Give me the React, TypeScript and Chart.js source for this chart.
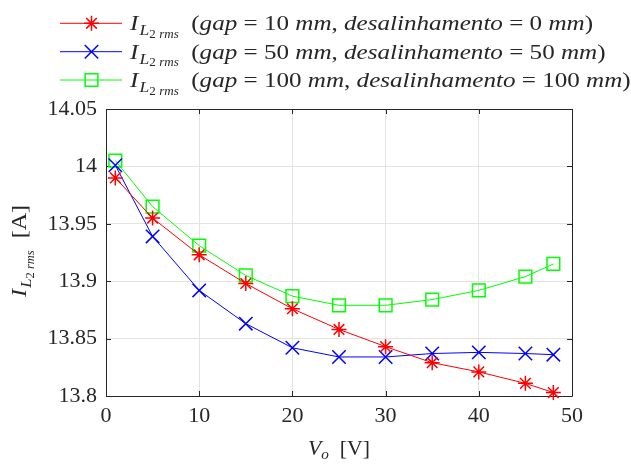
import React, { useEffect, useRef } from 'react';
import { Chart, registerables } from 'chart.js';

Chart.register(...registerables);

// Output voltage (V) at each measurement
const voltages = [1, 5, 10, 15, 20, 25, 30, 35, 40, 45, 48];
// RMS current in L2 (A) for each gap / misalignment configuration
const currentGap10 = [13.99, 13.955, 13.923, 13.898, 13.876, 13.858, 13.843, 13.829, 13.821, 13.811, 13.803];
const currentGap50 = [14.001, 13.939, 13.892, 13.863, 13.842, 13.834, 13.834, 13.837, 13.838, 13.837, 13.836];
const currentGap100 = [14.005, 13.965, 13.931, 13.905, 13.887, 13.879, 13.879, 13.884, 13.892, 13.904, 13.915];

const gapsMm = [10, 50, 100];
const misalignMm = [0, 50, 100];

const xTickValues = [0, 10, 20, 30, 40, 50];
const yTickValues = [13.8, 13.85, 13.9, 13.95, 14, 14.05];
const yTickLabels = ['13.8', '13.85', '13.9', '13.95', '14', '14.05'];

const FONT = '"Liberation Serif", "DejaVu Serif", serif';
const AXIS_COLOR = '#262626';
const GRID_COLOR = '#e3e3e3';
const SERIES_COLORS = ['#ff0000', '#0000ff', '#00ff00'];
const POINT_STYLES = ['star', 'crossRot', 'rect'];
const POINT_RADII = [7.5, 9.5, 9];

type Seg = { t: string; it?: boolean; k?: number; dy?: number };

function segWidth(ctx: CanvasRenderingContext2D, segs: Seg[], size: number): number {
  let w = 0;
  for (const s of segs) {
    ctx.font = `${s.it ? 'italic ' : ''}${size * (s.k ?? 1)}px ${FONT}`;
    w += ctx.measureText(s.t).width;
  }
  return w;
}

function drawSegs(ctx: CanvasRenderingContext2D, segs: Seg[], x: number, y: number, size: number): number {
  let cx = x;
  for (const s of segs) {
    ctx.font = `${s.it ? 'italic ' : ''}${size * (s.k ?? 1)}px ${FONT}`;
    ctx.fillText(s.t, cx, y + (s.dy ?? 0));
    cx += ctx.measureText(s.t).width;
  }
  return cx - x;
}

// Draws a run of text segments stretched horizontally to a given width
function drawStretched(ctx: CanvasRenderingContext2D, segs: Seg[], x: number, y: number, size: number, sx: number) {
  ctx.save();
  ctx.translate(x, y);
  ctx.scale(sx, 1);
  drawSegs(ctx, segs, 0, 0, size);
  ctx.restore();
}

// I_{L_{2rms}} symbol
const currentSymbol: Seg[] = [
  { t: 'I', it: true },
  { t: ' ', k: 0.2 },
  { t: 'L', it: true, k: 0.7, dy: 5 },
  { t: '2', k: 0.52, dy: 7.5 },
  { t: ' rms', it: true, k: 0.52, dy: 7.5 },
];

function legendSegs(i: number): Seg[] {
  return [
    ...currentSymbol,
    { t: '  (' },
    { t: 'gap', it: true },
    { t: ' = ' },
    { t: String(gapsMm[i]) },
    { t: ' ' },
    { t: 'mm', it: true },
    { t: ', ' },
    { t: 'desalinhamento', it: true },
    { t: ' = ' },
    { t: String(misalignMm[i]) },
    { t: ' ' },
    { t: 'mm', it: true },
    { t: ')' },
  ];
}

function drawMarker(ctx: CanvasRenderingContext2D, style: string, r: number, x: number, y: number, color: string) {
  ctx.save();
  ctx.strokeStyle = color;
  ctx.lineWidth = 1.5;
  ctx.beginPath();
  if (style === 'star') {
    ctx.moveTo(x - r, y); ctx.lineTo(x + r, y);
    ctx.moveTo(x, y - r); ctx.lineTo(x, y + r);
    const d = r * Math.SQRT1_2;
    ctx.moveTo(x - d, y - d); ctx.lineTo(x + d, y + d);
    ctx.moveTo(x - d, y + d); ctx.lineTo(x + d, y - d);
  } else if (style === 'crossRot') {
    const d = r * Math.SQRT1_2;
    ctx.moveTo(x - d, y - d); ctx.lineTo(x + d, y + d);
    ctx.moveTo(x - d, y + d); ctx.lineTo(x + d, y - d);
  } else {
    const d = r * Math.SQRT1_2;
    ctx.rect(x - d, y - d, 2 * d, 2 * d);
  }
  ctx.stroke();
  ctx.restore();
}

const framePlugin = {
  id: 'matlabFrame',
  beforeDatasetsDraw(chart: any) {
    const { ctx, chartArea: a, scales } = chart;
    ctx.save();
    ctx.strokeStyle = AXIS_COLOR;
    ctx.lineWidth = 1;
    ctx.beginPath();
    ctx.rect(Math.round(a.left) + 0.5, Math.round(a.top) + 0.5, Math.round(a.right - a.left), Math.round(a.bottom - a.top));
    const tl = 5;
    for (const v of xTickValues) {
      const px = Math.round(scales.x.getPixelForValue(v)) + 0.5;
      ctx.moveTo(px, a.bottom);
      ctx.lineTo(px, a.bottom - tl);
      ctx.moveTo(px, a.top);
      ctx.lineTo(px, a.top + tl);
    }
    for (const v of yTickValues) {
      const py = Math.round(scales.y.getPixelForValue(v)) + 0.5;
      ctx.moveTo(a.left, py);
      ctx.lineTo(a.left + tl, py);
      ctx.moveTo(a.right, py);
      ctx.lineTo(a.right - tl, py);
    }
    ctx.stroke();
    ctx.restore();
  },
  afterDraw(chart: any) {
    const { ctx, chartArea: a } = chart;
    ctx.save();
    ctx.fillStyle = AXIS_COLOR;
    ctx.textBaseline = 'alphabetic';
    ctx.textAlign = 'left';

    // Legend
    const rowY = [23.3, 51.7, 80];
    const legendStretch = 463 / segWidth(ctx, legendSegs(0), 22);
    chart.data.datasets.forEach((_ds: any, i: number) => {
      const cy = rowY[i];
      ctx.strokeStyle = SERIES_COLORS[i];
      ctx.lineWidth = 1;
      ctx.beginPath();
      ctx.moveTo(60, cy);
      ctx.lineTo(122, cy);
      ctx.stroke();
      drawMarker(ctx, POINT_STYLES[i], POINT_RADII[i], 91.5, cy, SERIES_COLORS[i]);
      ctx.fillStyle = AXIS_COLOR;
      drawStretched(ctx, legendSegs(i), 130, cy + 7, 22, legendStretch);
    });

    // X axis title
    const xTitle: Seg[] = [
      { t: 'V', it: true },
      { t: 'o', it: true, k: 0.7, dy: 4 },
      { t: '  [V]' },
    ];
    const xw = segWidth(ctx, xTitle, 22);
    const xs = 62 / xw;
    drawStretched(ctx, xTitle, (a.left + a.right) / 2 - 31, 455, 22, xs);

    // Y axis title
    const yTitle: Seg[] = [...currentSymbol, { t: '  [A]' }];
    const yw = segWidth(ctx, yTitle, 22);
    const ys = 92 / yw;
    ctx.save();
    ctx.translate(26, 251 + 46);
    ctx.rotate(-Math.PI / 2);
    drawStretched(ctx, yTitle, 0, 0, 22, ys);
    ctx.restore();
    ctx.restore();
  },
};

export default function App() {
  const canvasRef = useRef<HTMLCanvasElement | null>(null);

  useEffect(() => {
    const canvas = canvasRef.current;
    if (!canvas) return;
    const series = [currentGap10, currentGap50, currentGap100];
    const chart = new Chart(canvas, {
      type: 'line',
      data: {
        datasets: series.map((vals, i) => ({
          label: `gap = ${gapsMm[i]} mm, desalinhamento = ${misalignMm[i]} mm`,
          data: voltages.map((v, j) => ({ x: v, y: vals[j] })),
          borderColor: SERIES_COLORS[i],
          backgroundColor: 'transparent',
          borderWidth: 1,
          pointStyle: POINT_STYLES[i] as any,
          pointRadius: POINT_RADII[i],
          pointBorderWidth: 1.5,
          pointBorderColor: SERIES_COLORS[i],
          pointBackgroundColor: 'transparent',
          tension: 0,
          clip: false as any,
        })),
      },
      options: {
        responsive: false,
        animation: false,
        devicePixelRatio: 1,
        events: [],
        layout: { padding: { top: 109, right: 59, left: 0, bottom: 0 } },
        plugins: { legend: { display: false }, tooltip: { enabled: false } },
        scales: {
          x: {
            type: 'linear',
            min: 0,
            max: 50,
            afterBuildTicks: (s: any) => {
              s.ticks = xTickValues.map((v) => ({ value: v }));
            },
            afterFit: (s: any) => {
              s.height = 70;
            },
            grid: { color: GRID_COLOR, drawTicks: false },
            border: { display: false },
            ticks: {
              font: { family: FONT, size: 22 },
              color: AXIS_COLOR,
              padding: 7,
              maxRotation: 0,
              autoSkip: false,
              callback: (v: any) => String(v),
            },
          },
          y: {
            type: 'linear',
            min: 13.8,
            max: 14.05,
            afterBuildTicks: (s: any) => {
              s.ticks = yTickValues.map((v) => ({ value: v }));
            },
            afterFit: (s: any) => {
              s.width = 106;
            },
            grid: { color: GRID_COLOR, drawTicks: false },
            border: { display: false },
            ticks: {
              font: { family: FONT, size: 22 },
              color: AXIS_COLOR,
              padding: 9,
              autoSkip: false,
              callback: (v: any) => {
                const idx = yTickValues.findIndex((t) => Math.abs(t - Number(v)) < 1e-9);
                return idx >= 0 ? yTickLabels[idx] : '';
              },
            },
          },
        },
      },
      plugins: [framePlugin],
    });
    return () => chart.destroy();
  }, []);

  return (
    <div style={{ position: 'absolute', left: 0, top: 0, width: 631, height: 466, background: '#ffffff' }}>
      <canvas ref={canvasRef} width={631} height={466} style={{ display: 'block' }} />
    </div>
  );
}
